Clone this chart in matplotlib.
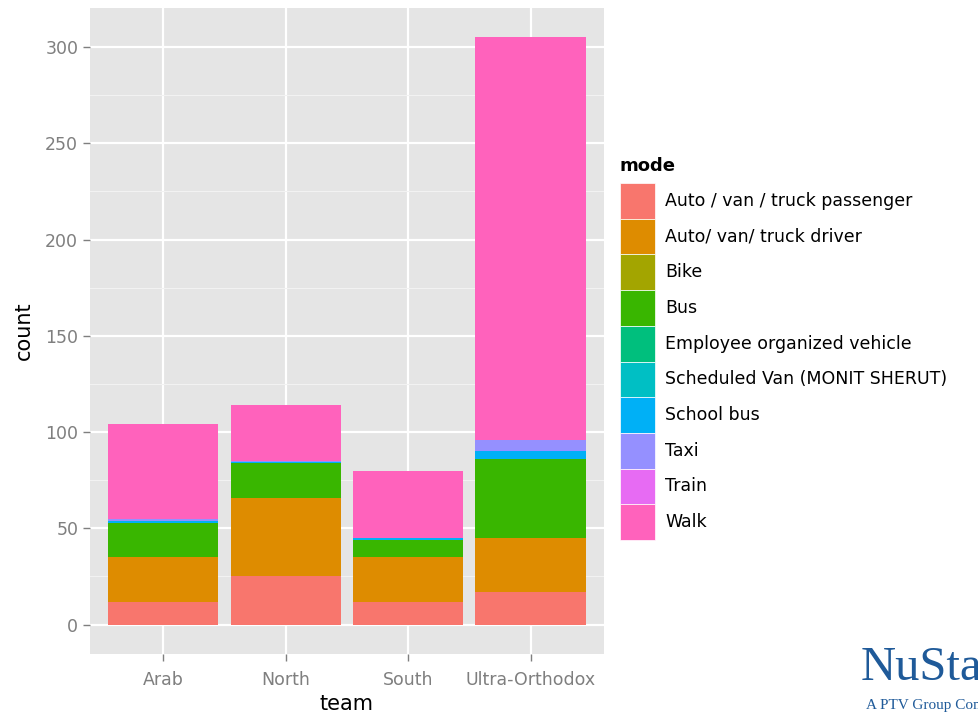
import matplotlib
matplotlib.use("Agg")
import matplotlib.pyplot as plt
from matplotlib.patches import Rectangle
import numpy as np

teams = ["Arab", "North", "South", "Ultra-Orthodox"]
modes = ["Auto / van / truck passenger", "Auto/ van/ truck driver", "Bike", "Bus",
         "Employee organized vehicle", "Scheduled Van (MONIT SHERUT)", "School bus",
         "Taxi", "Train", "Walk"]
colors = ["#F8766D", "#DE8C00", "#A3A500", "#39B600", "#00BF7D", "#00BFC4",
          "#00B0F6", "#9590FF", "#E76BF3", "#FF62BC"]

passenger = [12, 25, 12, 17]
driver    = [23, 41, 23, 28]
bike      = [0, 0, 0, 0]
bus       = [18, 18, 9, 41]
employee  = [0, 0, 0, 0]
sched_van = [0, 0, 0, 0]
school    = [1, 0.5, 1, 4]
taxi      = [1, 0.5, 0, 6]
train     = [0, 0, 0, 0]
walk      = [49, 29, 35, 209]
series = [passenger, driver, bike, bus, employee, sched_van, school, taxi, train, walk]

fig = plt.figure(figsize=(9.79, 7.15), dpi=100)
ax = fig.add_axes([90/979, 1-654/715, (604-90)/979, (654-8)/715])
ax.set_facecolor("#E5E5E5")
for s in ax.spines.values():
    s.set_visible(False)

x = np.arange(1, len(teams) + 1)
bottom = np.zeros(len(teams))
for vals, c in zip(series, colors):
    v = np.array(vals, dtype=float)
    ax.bar(x, v, width=0.9, bottom=bottom, color=c, edgecolor="none", zorder=3)
    bottom += v

ax.set_xlim(0.4, 4.6)
ax.set_ylim(-15.25, 320.25)
ax.set_yticks([0, 50, 100, 150, 200, 250, 300])
ax.set_yticks([25, 75, 125, 175, 225, 275], minor=True)
ax.set_xticks(x)
ax.set_xticklabels(teams)
ax.grid(True, which="major", color="white", linewidth=1.6, zorder=0)
ax.grid(True, which="minor", axis="y", color="#F2F2F2", linewidth=0.8, zorder=0)
ax.set_axisbelow(True)
ax.tick_params(axis="both", which="major", colors="#7F7F7F", labelcolor="#7F7F7F",
               labelsize=12.5, length=5, width=1)
ax.tick_params(axis="x", which="major", pad=7)
ax.tick_params(axis="both", which="minor", length=0)
ax.set_xlabel("team", fontsize=15, labelpad=4)
ax.set_ylabel("count", fontsize=15, labelpad=8)

# legend
fig.text(620/979, 1-166/715, "mode", fontsize=13, fontweight="bold", va="center", ha="left")
key_h = 35.7
y0 = 183
for i, (m, c) in enumerate(zip(modes, colors)):
    yt = y0 + i * key_h
    fig.patches.append(Rectangle((620/979, 1-(yt+key_h)/715), 35/979, key_h/715,
                                 transform=fig.transFigure, facecolor=c, edgecolor="white",
                                 linewidth=0.5))
    fig.text(665/979, 1-(yt+key_h/2)/715, m, fontsize=12.5, va="center", ha="left")

# logo
fig.text(861/979, 1-668/715, "NuStar", fontsize=35, family="Liberation Serif",
         color="#1F5A99", va="center", ha="left")
fig.text(866/979, 1-706/715, "A PTV Group Company", fontsize=11, family="Liberation Serif",
         color="#1F5A99", va="center", ha="left")

fig.savefig("out.png", dpi=100)
